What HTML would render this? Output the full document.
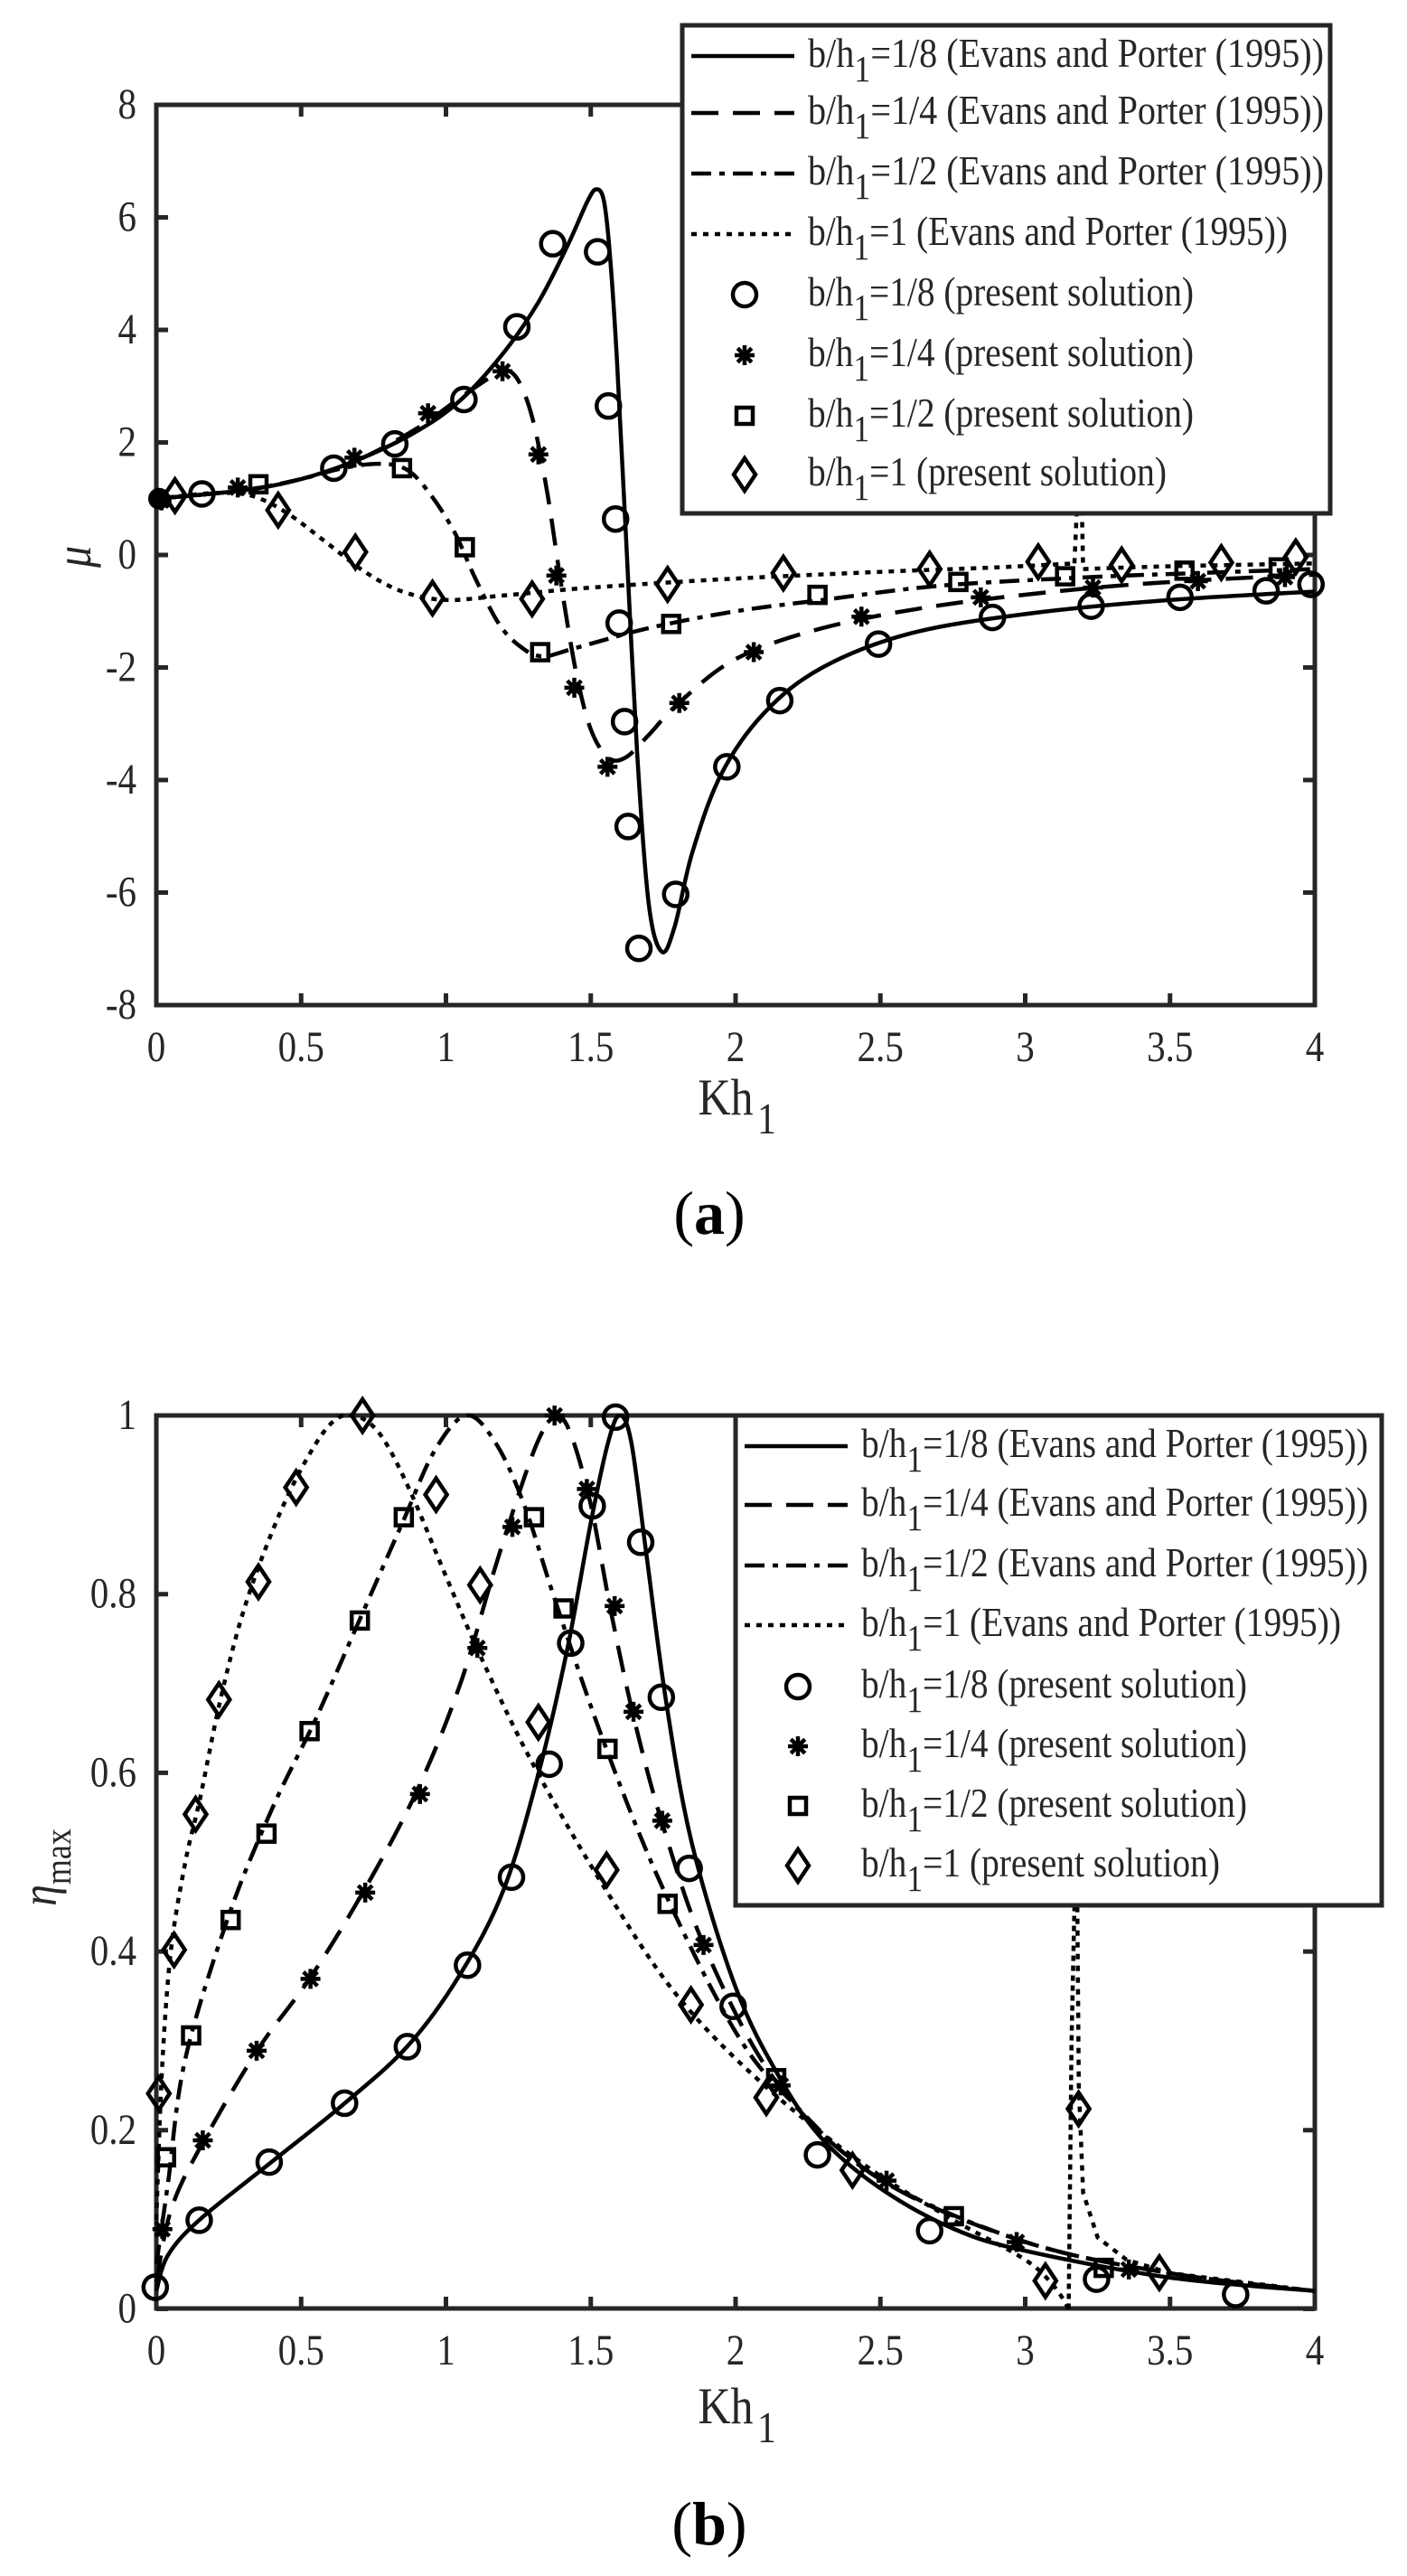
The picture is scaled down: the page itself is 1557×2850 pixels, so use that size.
<!DOCTYPE html>
<html><head><meta charset="utf-8"><style>
html,body{margin:0;padding:0;background:#fff}
svg{display:block}
text{font-family:"Liberation Serif",serif;fill:#262626}
</style></head><body>
<svg id="s" width="1557" height="2850" xmlns="http://www.w3.org/2000/svg"></svg>
<script>
const S=document.getElementById('s');let out='';
const X=x=>173+320.5*x;
const YA=y=>614-62.25*y;
const YB=y=>2554.5-988.5*y;
const Z=(zx,zy,off)=>[zx*0.993,zy*0.893+off];
const dashes={solid:'',dash:'30 16',dashdot:'22 9 6 9',dot:'6 7'};
function path(pts,style,sw){
 let d='M'+pts[0][0].toFixed(1)+','+pts[0][1].toFixed(1);
 for(let i=0;i<pts.length-1;i++){
  const p0=pts[Math.max(0,i-1)],p1=pts[i],p2=pts[i+1],p3=pts[Math.min(pts.length-1,i+2)];
  const c1=[p1[0]+(p2[0]-p0[0])/6,p1[1]+(p2[1]-p0[1])/6];
  const c2=[p2[0]-(p3[0]-p1[0])/6,p2[1]-(p3[1]-p1[1])/6];
  d+=' C'+c1.map(v=>v.toFixed(1))+' '+c2.map(v=>v.toFixed(1))+' '+p2.map(v=>v.toFixed(1));
 }
 out+=`<path d="${d}" fill="none" stroke="#000" stroke-width="${sw||4.5}" stroke-dasharray="${dashes[style]}" stroke-linejoin="round"/>`;
}
function curve(data,Y,style){path(data.map(p=>[X(p[0]),Y(p[1])]),style);}
function mk(type,x,y){
 if(type==='o')out+=`<circle cx="${x}" cy="${y}" r="13" fill="none" stroke="#000" stroke-width="4.5"/>`;
 else if(type==='s')out+=`<rect x="${x-9}" y="${y-9}" width="18" height="18" fill="none" stroke="#000" stroke-width="4.5"/>`;
 else if(type==='d')out+=`<path d="M${x},${y-18} L${x+12},${y} L${x},${y+18} L${x-12},${y} Z" fill="none" stroke="#000" stroke-width="4.5"/>`;
 else if(type==='*'){let d='';for(let k=0;k<4;k++){const a=k*Math.PI/4,c=Math.cos(a)*11,s=Math.sin(a)*11;d+=`M${x-c},${y-s}L${x+c},${y+s}`;}
  out+=`<path d="${d}" stroke="#000" stroke-width="4.5"/>`;}
}
function T(x,y,str,anchor,size,extra){
 out+=`<text transform="translate(${x},${y}) scale(1,1.15)" font-size="${size||41}" text-anchor="${anchor||'start'}" ${extra||''}>${str}</text>`;
}
function axes(top,bot,yticks,ylabs,Yf){
 out+=`<rect x="173" y="${top}" width="1282" height="${bot-top}" fill="none" stroke="#262626" stroke-width="5"/>`;
 let d='';
 for(let i=0;i<=8;i++){const x=X(i*0.5);d+=`M${x},${bot}L${x},${bot-13}M${x},${top}L${x},${top+13}`;}
 yticks.forEach(v=>{const y=Yf(v);d+=`M173,${y}L186,${y}M1455,${y}L1442,${y}`;});
 out+=`<path d="${d}" stroke="#262626" stroke-width="5"/>`;
 const xl=['0','0.5','1','1.5','2','2.5','3','3.5','4'];
 xl.forEach((l,i)=>T(X(i*0.5),bot+62,l,'middle'));
 yticks.forEach((v,i)=>T(151,Yf(v)+15,ylabs[i],'end'));
}
// ===== Plot A =====
axes(116,1112,[-8,-6,-4,-2,0,2,4,6,8],['-8','-6','-4','-2','0','2','4','6','8'],YA);
curve([[0,1],[0.3,1.15],[0.5,1.35],[0.7,1.7],[0.9,2.2],[1.05,2.75],[1.2,3.6],[1.32,4.5],[1.42,5.5],[1.49,6.3],[1.52,6.5],[1.545,6.3],[1.565,5.4],[1.59,3.5],[1.62,0.5],[1.66,-3.5],[1.7,-6.2],[1.745,-7.05],[1.79,-6.6],[1.85,-5.3],[1.95,-3.9],[2.1,-2.8],[2.3,-2.0],[2.6,-1.4],[3,-1.05],[3.5,-0.8],[4,-0.65]],YA,'solid');
curve([[0,1],[0.3,1.15],[0.5,1.35],[0.7,1.7],[0.9,2.25],[1.05,2.8],[1.15,3.15],[1.2,3.3],[1.25,3.1],[1.3,2.4],[1.35,1.1],[1.4,-0.6],[1.45,-2.1],[1.5,-3.1],[1.56,-3.6],[1.62,-3.6],[1.7,-3.2],[1.8,-2.65],[2,-1.85],[2.3,-1.3],[2.7,-0.9],[3.2,-0.6],[3.6,-0.45],[4,-0.35]],YA,'dash');
curve([[0,1],[0.3,1.15],[0.5,1.35],[0.65,1.55],[0.78,1.62],[0.87,1.5],[0.95,1.05],[1.03,0.4],[1.1,-0.4],[1.18,-1.2],[1.25,-1.6],[1.33,-1.8],[1.45,-1.65],[1.7,-1.3],[2,-1.0],[2.3,-0.8],[2.7,-0.55],[3.2,-0.4],[3.6,-0.32],[4,-0.25]],YA,'dashdot');
curve([[0,1],[0.2,1.1],[0.33,1.05],[0.45,0.75],[0.58,0.25],[0.72,-0.3],[0.85,-0.65],[1.0,-0.8],[1.2,-0.72],[1.5,-0.58],[2,-0.42],[2.5,-0.3],[2.9,-0.22],[3.17,-0.15]],YA,'dot');
out+=`<path d="M${X(3.17)},${YA(-0.15)} L${X(3.19)},${YA(2.2)} L${X(3.2)},${YA(-0.25)}" fill="none" stroke="#000" stroke-width="4.5" stroke-dasharray="6 7"/>`;
curve([[3.2,-0.25],[3.5,-0.2],[4,-0.15]],YA,'dot');
const mA={
o:[[225,612],[372,580],[440,550],[517,495],[576,405],[616,302],[666,312],[678,503],[686,643],[690,772],[696,894],[700,1024],[712,1175],[753,1108],[810,950],[869,868],[979,798],[1106,765],[1216,751],[1315,740],[1411,732],[1461,724]],
'*':[[180,620],[265,604],[395,567],[477,512],[560,460],[600,563],[620,713],[640,852],[677,950],[757,871],[840,808],[960,764],[1093,740],[1218,728],[1335,720],[1432,715]],
s:[[288,600],[448,580],[518,678],[602,808],[748,773],[911,737],[1068,721],[1187,714],[1320,707],[1425,703]],
d:[[195,614],[310,632],[396,684],[482,741],[593,742],[744,724],[873,710],[1036,705],[1157,696],[1250,700],[1361,697],[1444,690]]};
for(const k in mA)mA[k].forEach(p=>{const q=Z(p[0],p[1],0);mk(k,q[0],q[1]);});
out+=`<circle cx="176" cy="${YA(1)}" r="12" fill="#000"/>`;
function legend(x0,y0,x1,y1,rows,lx0,lx1,tx,mx,widths){
 out+=`<rect x="${x0}" y="${y0}" width="${x1-x0}" height="${y1-y0}" fill="#fff" stroke="#262626" stroke-width="5"/>`;
 const st=['solid','dash','dashdot','dot'],lab=['1/8','1/4','1/2','1'],mks=['o','*','s','d'];
 rows.forEach((y,i)=>{
  if(i<4){out+=`<path d="M${lx0},${y}L${lx1},${y}" stroke="#000" stroke-width="4.5" stroke-dasharray="${dashes[st[i]]}"/>`;}
  else mk(mks[i-4],mx,y);
  const l=lab[i%4],rest=i<4?' (Evans and Porter (1995))':' (present solution)';
  out+=`<text transform="translate(${tx},${y+12}) scale(1,1.15)" font-size="40" textLength="${widths[i]}" lengthAdjust="spacingAndGlyphs">b/h<tspan dy="14" font-size="36">1</tspan><tspan dy="-14">=${l}${rest}</tspan></text>`;
 });
}
legend(755,28,1472,568,[62,125,192,259,326,393,460,525],765,879,894,824,[571,571,571,531,427,427,427,397]);
T(803,1233,'Kh','middle',50);T(838,1254,'1','start',42);
out+=`<text transform="translate(100,616) rotate(-90) scale(1,1.15)" font-size="48" font-style="italic" text-anchor="middle">μ</text>`;
out+=`<text x="785" y="1365" font-size="68" text-anchor="middle" font-family="Liberation Serif" style="fill:#000">(<tspan font-weight="bold">a</tspan>)</text>`;
// ===== Plot B =====
axes(1566,2554,[0,0.2,0.4,0.6,0.8,1],['0','0.2','0.4','0.6','0.8','1'],YB);
curve([[0,0.02],[0.04,0.06],[0.15,0.1],[0.4,0.165],[0.65,0.23],[0.87,0.295],[1.05,0.375],[1.2,0.47],[1.32,0.6],[1.42,0.74],[1.5,0.88],[1.56,0.97],[1.6,1.0],[1.64,0.97],[1.69,0.85],[1.76,0.68],[1.85,0.52],[2.0,0.36],[2.15,0.26],[2.3,0.19],[2.5,0.135],[2.75,0.09],[3.0,0.065],[3.5,0.035],[4,0.02]],YB,'solid');
curve([[0,0.03],[0.05,0.11],[0.15,0.18],[0.35,0.29],[0.53,0.37],[0.72,0.47],[0.9,0.58],[1.05,0.7],[1.17,0.83],[1.27,0.93],[1.33,0.98],[1.38,1.0],[1.43,0.98],[1.5,0.9],[1.57,0.78],[1.65,0.66],[1.75,0.54],[1.9,0.4],[2.15,0.25],[2.5,0.145],[3,0.075],[3.5,0.04],[4,0.02]],YB,'dash');
curve([[0,0.05],[0.04,0.14],[0.1,0.28],[0.25,0.44],[0.4,0.56],[0.55,0.66],[0.7,0.77],[0.85,0.88],[0.96,0.96],[1.07,1.0],[1.17,0.97],[1.27,0.9],[1.38,0.79],[1.55,0.63],[1.75,0.47],[2.0,0.31],[2.2,0.23],[2.5,0.145],[3,0.075],[3.5,0.04],[4,0.02]],YB,'dashdot');
curve([[0,0.1],[0.02,0.27],[0.05,0.4],[0.1,0.5],[0.15,0.57],[0.22,0.68],[0.3,0.78],[0.4,0.87],[0.5,0.94],[0.6,0.99],[0.68,1.0],[0.77,0.98],[0.87,0.92],[1.0,0.82],[1.12,0.73],[1.3,0.61],[1.55,0.47],[1.8,0.35],[2.1,0.25],[2.45,0.16],[2.75,0.1],[3.0,0.055],[3.1,0.025],[3.15,0]],YB,'dot');
out+=`<path d="M${X(3.15)},${YB(0)} L${X(3.16)},${YB(0.3)} L${X(3.17)},${YB(0.45)}" fill="none" stroke="#000" stroke-width="4.5" stroke-dasharray="6 5"/>`;
out+=`<path d="M${X(3.18)},${YB(0.45)} L${X(3.185)},${YB(0.25)} L${X(3.2)},${YB(0.13)} L${X(3.25)},${YB(0.08)} L${X(3.35)},${YB(0.055)} L${X(3.5)},${YB(0.04)} L${X(4)},${YB(0.02)}" fill="none" stroke="#000" stroke-width="4.5" stroke-dasharray="6 7"/>`;
const mB={
o:[[173,1210],[222,1127],[300,1055],[384,982],[454,912],[521,811],[570,702],[612,562],[636,412],[660,242],[686,132],[714,287],[737,479],[768,691],[817,862],[911,1046],[1036,1140],[1222,1200],[1377,1219]],
'*':[[181,1138],[226,1028],[286,917],[346,828],[407,721],[468,599],[532,418],[571,268],[618,130],[654,221],[685,366],[706,497],[738,632],[784,786],[870,960],[988,1078],[1133,1154],[1258,1188]],
s:[[185,1049],[213,898],[257,755],[297,648],[345,521],[401,384],[450,256],[595,256],[628,369],[677,543],[744,735],[865,951],[1063,1122],[1230,1186]],
d:[[177,970],[194,792],[218,624],[244,482],[288,336],[330,219],[404,130],[486,228],[535,340],[600,510],[676,693],[770,860],[854,975],[950,1065],[1165,1202],[1202,989],[1292,1192]]};
for(const k in mB)mB[k].forEach(p=>{const q=Z(p[0],p[1],1450);mk(k,q[0],q[1]);});
legend(814,1566,1529,2108,[1600,1665,1732,1798,1866,1932,1998,2064],824,938,953,883,[561,561,561,531,427,427,427,397]);
T(803,2681,'Kh','middle',50);T(838,2702,'1','start',42);
out+=`<text transform="translate(62,2066) rotate(-90) scale(1,1.15)" font-size="48" text-anchor="middle"><tspan font-style="italic">η</tspan><tspan dy="14" font-size="36">max</tspan></text>`;
out+=`<text x="785" y="2815" font-size="68" text-anchor="middle" font-family="Liberation Serif" style="fill:#000">(<tspan font-weight="bold">b</tspan>)</text>`;
S.innerHTML=out;
</script>
</body></html>
